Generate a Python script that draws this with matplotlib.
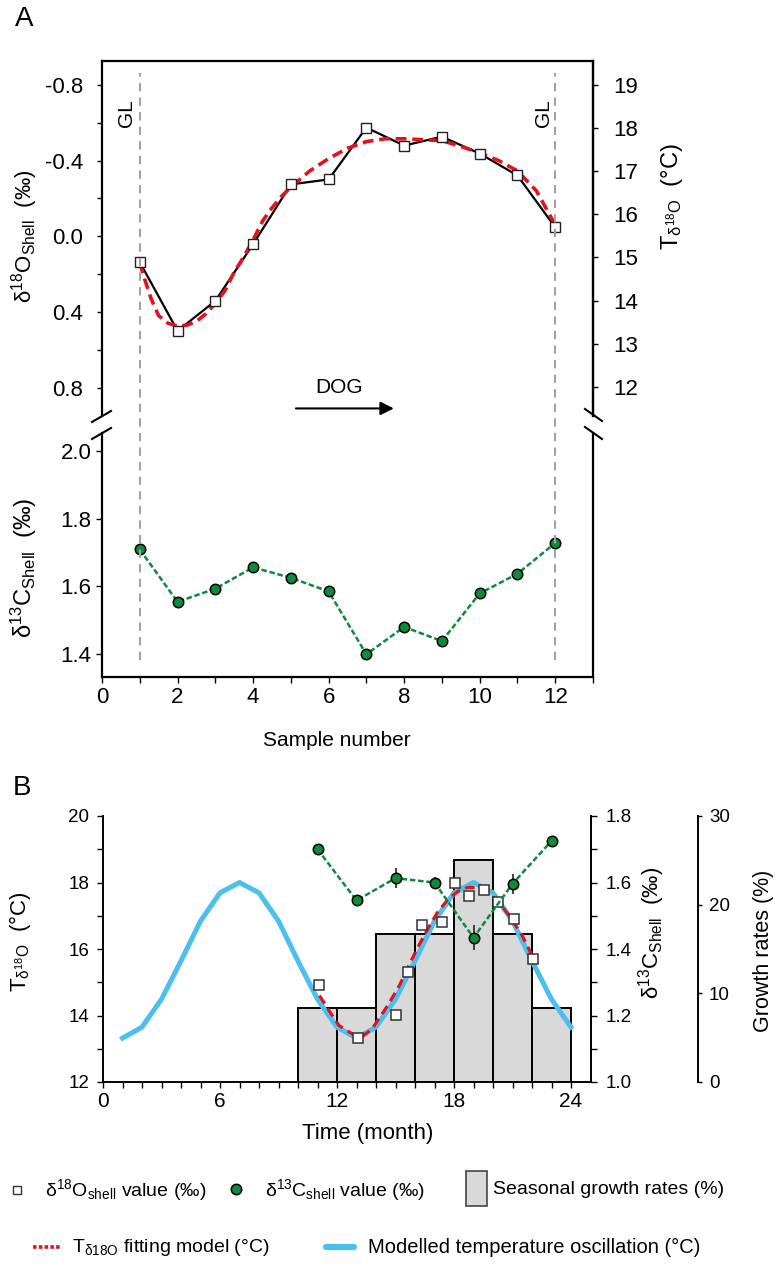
import matplotlib
matplotlib.use('Agg')
import matplotlib.pyplot as plt
from matplotlib.lines import Line2D
from matplotlib.patches import Rectangle
from matplotlib.ticker import FixedLocator

plt.rcParams['font.family'] = ['Liberation Sans', 'DejaVu Sans']
plt.rcParams['mathtext.fontset'] = 'custom'
plt.rcParams['mathtext.rm'] = 'Liberation Sans'
plt.rcParams['mathtext.it'] = 'Liberation Sans:italic'
plt.rcParams['mathtext.bf'] = 'Liberation Sans:bold'

# ---------------- data ----------------
samples = [1, 2, 3, 4, 5, 6, 7, 8, 9, 10, 11, 12]
d18O_shell = [0.137, 0.50, 0.342, 0.042, -0.274, -0.30, -0.574, -0.479, -0.526, -0.437, -0.321, -0.047]
d13C_shell = [1.709, 1.554, 1.593, 1.656, 1.625, 1.585, 1.399, 1.480, 1.438, 1.579, 1.637, 1.728]
fitA_x = [1.0, 1.15, 1.3, 1.5, 1.75, 2.0, 2.25, 2.5, 2.75, 3.0, 3.25, 3.5, 3.75, 4.0, 4.25, 4.5,
          4.75, 5.0, 5.5, 6.0, 6.5, 7.0, 7.5, 8.0, 8.5, 9.0, 9.5, 10.0, 10.5, 11.0, 11.5, 12.0]
fitA_d18O = [0.14, 0.24, 0.33, 0.42, 0.46, 0.475, 0.47, 0.45, 0.41, 0.355, 0.29, 0.19, 0.11, 0.02,
             -0.08, -0.15, -0.21, -0.26, -0.345, -0.41, -0.465, -0.50, -0.515, -0.515, -0.51,
             -0.505, -0.475, -0.44, -0.40, -0.345, -0.24, -0.06]

month_model = [1, 2, 3, 4, 5, 6, 7, 8, 9, 10, 11, 12, 13, 14, 15, 16, 17, 18, 19, 20, 21, 22, 23, 24]
temp_model = [13.32, 13.65, 14.49, 15.64, 16.84, 17.69, 18.0, 17.69, 16.84, 15.64, 14.49, 13.65,
              13.32, 13.65, 14.49, 15.64, 16.84, 17.69, 18.0, 17.69, 16.84, 15.64, 14.49, 13.65]
fitB_month = [11.1, 11.7, 12.1, 12.8, 13.3, 13.8, 14.6, 15.2, 15.6, 16.1, 16.65, 17.15, 17.7,
              18.2, 18.7, 19.2, 19.7, 20.25, 20.9, 21.5, 22.05]
fitB_temp = [14.6, 14.05, 13.7, 13.44, 13.37, 13.6, 14.3, 14.9, 15.4, 16.0, 16.6, 17.1, 17.5,
             17.73, 17.85, 17.85, 17.7, 17.45, 16.95, 16.4, 15.75]
sq_month = [11.09, 13.06, 15.05, 15.64, 16.38, 17.37, 18.03, 18.75, 19.55, 20.26, 21.06, 22.06]
sq_temp = [14.91, 13.31, 14.01, 15.31, 16.71, 16.81, 18.0, 17.6, 17.78, 17.4, 16.9, 15.7]
c_month = [11, 13, 15, 17, 19, 21, 23]
c_value = [1.70, 1.546, 1.613, 1.600, 1.434, 1.596, 1.725]
c_err = [0.0, 0.0, 0.03, 0.018, 0.038, 0.03, 0.0]
growth_start = [10, 12, 14, 16, 18, 20, 22]
growth_rate = [8.33, 8.33, 16.67, 16.67, 25.0, 16.67, 8.33]

# ---------------- styling ----------------
GREEN = '#0b8b3b'
RED = '#e3121e'
BLUE = '#4bbfee'
GREY_BAR = '#d9d9d9'

W, H = 775, 1264
fig = plt.figure(figsize=(W / 100, H / 100), dpi=100)


def rect(l, t, r, b):
    return [l / W, 1 - b / H, (r - l) / W, (b - t) / H]


def ftext(x, y, s, **kw):
    kw.setdefault('ha', 'center')
    kw.setdefault('va', 'center')
    return fig.text(x / W, 1 - y / H, s, **kw)


def fline(xs, ys, **kw):
    fig.add_artist(Line2D([x / W for x in xs], [1 - y / H for y in ys],
                          transform=fig.transFigure, **kw))


# ================= Panel A =================
ax1 = fig.add_axes(rect(102, 61, 593, 416))
ax1.set_xlim(0, 13)
ax1.set_ylim(0.95, -0.926)
for s in ['top', 'left', 'right']:
    ax1.spines[s].set_linewidth(1.6)
ax1.spines['bottom'].set_visible(False)
ax1.tick_params(axis='x', bottom=False, labelbottom=False)
ax1.set_yticks([-0.8, -0.4, 0.0, 0.4, 0.8])
ax1.set_yticklabels(['-0.8', '-0.4', '0.0', '0.4', '0.8'])
ax1.yaxis.set_minor_locator(FixedLocator([-0.6, -0.2, 0.2, 0.6]))
ax1.tick_params(axis='y', which='both', direction='out', length=3.6, width=1.0,
                labelsize=16, pad=10)

ax1.plot(samples, d18O_shell, color='black', lw=1.6, zorder=2)
ax1.plot(fitA_x, fitA_d18O, color=RED, lw=2.6, dashes=(3.0, 1.6), zorder=3)
ax1.plot(samples, d18O_shell, linestyle='none', marker='s', ms=6.5, mfc='white',
         mec='#222222', mew=1.0, zorder=4)

ax1t = ax1.twinx()
ax1t.set_ylim(11.32, 19.56)
for s in ['top', 'left', 'bottom']:
    ax1t.spines[s].set_visible(False)
ax1t.spines['right'].set_linewidth(1.6)
ax1t.set_yticks(list(range(12, 20)))
ax1t.tick_params(axis='y', direction='out', length=3.6, width=1.0, labelsize=16, pad=11)

ax1.text(samples[0] - 0.36, -0.653, 'GL', rotation=90, ha='center', va='center', fontsize=15)
ax1.text(samples[-1] - 0.3, -0.653, 'GL', rotation=90, ha='center', va='center', fontsize=15)
ax1.text(6.27, 0.80, 'DOG', ha='center', va='center', fontsize=15)
ax1.annotate('', xy=(7.8, 0.91), xytext=(5.06, 0.91),
             arrowprops=dict(arrowstyle='-|>', color='black', lw=1.5, mutation_scale=20))

ax2 = fig.add_axes(rect(102, 433, 593, 677))
ax2.set_xlim(0, 13)
ax2.set_ylim(1.332, 2.053)
ax2.spines['top'].set_visible(False)
for s in ['bottom', 'left', 'right']:
    ax2.spines[s].set_linewidth(1.6)
ax2.set_yticks([1.4, 1.6, 1.8, 2.0])
ax2.set_yticklabels(['1.4', '1.6', '1.8', '2.0'])
ax2.tick_params(axis='y', direction='out', length=4.5, width=1.0, labelsize=16, pad=3)
ax2.set_xticks(list(range(0, 14)))
ax2.set_xticklabels([str(i) if i % 2 == 0 else '' for i in range(14)])
ax2.tick_params(axis='x', direction='out', length=4, width=1.0, labelsize=16, pad=3)
ax2.plot(samples, d13C_shell, color=GREEN, lw=1.8, linestyle=(0, (2.2, 1.1)), marker='o',
         ms=7.5, mfc=GREEN, mec='black', mew=1.1, zorder=3)

# GL dashed lines spanning both parts
axov = fig.add_axes(rect(102, 61, 593, 677))
axov.set_xlim(0, 13)
axov.axis('off')
for gx in (samples[0], samples[-1]):
    axov.axvline(gx, ymin=0.0276, ymax=0.9805, color='#a3a3a3', lw=1.5, dashes=(4, 3))

# break marks
for (x0, y0, x1, y1) in [(92, 422, 111, 411), (92, 439, 111, 428),
                         (585, 409, 602, 421), (585, 427, 602, 439)]:
    fline([x0, x1], [y0, y1], color='black', lw=1.5)

ftext(24, 19, 'A', fontsize=20)
ftext(25, 236, 'δ$^{18}$O$_{\\mathrm{Shell}}$  (‰)', rotation=90, fontsize=16)
ftext(672, 197, 'T$_{\\mathrm{δ}^{18}\\mathrm{O}}$  (°C)', rotation=90, fontsize=17)
ftext(24, 568, 'δ$^{13}$C$_{\\mathrm{Shell}}$  (‰)', rotation=90, fontsize=17)
ftext(337, 741, 'Sample number', fontsize=15)

# ================= Panel B =================
axB = fig.add_axes(rect(103, 816, 590.5, 1082))
axC = axB.twinx()
axG = axB.twinx()
axG.set_zorder(1)
axB.set_zorder(2)
axC.set_zorder(3)
axB.patch.set_visible(False)
axC.patch.set_visible(False)
axG.patch.set_visible(False)

axB.set_xlim(0, 25)
axB.set_ylim(12, 20)
for s in ['top', 'right']:
    axB.spines[s].set_visible(False)
for s in ['left', 'bottom']:
    axB.spines[s].set_linewidth(1.4)
axB.set_xticks([0, 6, 12, 18, 24])
axB.xaxis.set_minor_locator(FixedLocator([m for m in range(1, 24) if m % 6 != 0]))
axB.tick_params(axis='x', which='both', direction='out', length=4.3, width=1.0,
                labelsize=15, pad=3)
axB.set_yticks([12, 14, 16, 18, 20])
axB.yaxis.set_minor_locator(FixedLocator([13, 15, 17, 19]))
axB.tick_params(axis='y', which='both', direction='out', length=4, width=1.0,
                labelsize=13.5, pad=6)

axC.set_ylim(1.0, 1.8)
for s in ['top', 'left', 'bottom']:
    axC.spines[s].set_visible(False)
axC.spines['right'].set_linewidth(1.4)
axC.set_yticks([1.0, 1.2, 1.4, 1.6, 1.8])
axC.set_yticklabels(['1.0', '1.2', '1.4', '1.6', '1.8'])
axC.yaxis.set_minor_locator(FixedLocator([1.1, 1.3, 1.5, 1.7]))
axC.tick_params(axis='y', which='both', direction='out', length=4, width=1.0,
                labelsize=13.5, pad=7)

axG.set_ylim(0, 30)
axG.spines['right'].set_position(('axes', 1.2205))
for s in ['top', 'left', 'bottom']:
    axG.spines[s].set_visible(False)
axG.spines['right'].set_linewidth(1.4)
axG.set_yticks([0, 10, 20, 30])
axG.tick_params(axis='y', direction='out', length=3, width=1.0, labelsize=13.5, pad=5)

axG.bar(growth_start, growth_rate, width=2, align='edge', color=GREY_BAR,
        edgecolor='black', linewidth=1.4)
axB.plot(month_model, temp_model, color=BLUE, lw=3.6, solid_joinstyle='round', zorder=2)
axB.plot(fitB_month, fitB_temp, color=RED, lw=2.3, dashes=(3.0, 1.8), zorder=3)
axB.plot(sq_month, sq_temp, linestyle='none', marker='s', ms=7, mfc='white',
         mec='#333333', mew=1.1, zorder=4)
axC.errorbar(c_month, c_value, yerr=c_err, fmt='none', ecolor='#222222',
             elinewidth=1.2, capsize=0, zorder=2)
axC.plot(c_month, c_value, color=GREEN, lw=1.8, linestyle=(0, (2.2, 1.1)), marker='o',
         ms=7.5, mfc=GREEN, mec='black', mew=1.1, zorder=3)

ftext(22, 788, 'B', fontsize=20)
ftext(20, 942, 'T$_{\\mathrm{δ}^{18}\\mathrm{O}}$  (°C)', rotation=90, fontsize=16)
ftext(652, 933, 'δ$^{13}$C$_{\\mathrm{Shell}}$  (‰)', rotation=90, fontsize=16)
ftext(763, 951, 'Growth rates (%)', rotation=90, fontsize=15.5)
ftext(368, 1133, 'Time (month)', fontsize=16)

# ================= Legend =================
fline([17], [1190], linestyle='none', marker='s', ms=6, mfc='white', mec='#333333', mew=1.0)
ftext(45, 1190, 'δ$^{18}$O$_{\\mathrm{shell}}$ value (‰)', ha='left', fontsize=14)
fline([236], [1189], linestyle='none', marker='o', ms=7.5, mfc=GREEN, mec='black', mew=1.1)
ftext(265, 1190, 'δ$^{13}$C$_{\\mathrm{shell}}$ value (‰)', ha='left', fontsize=14)
fig.add_artist(Rectangle((466 / W, 1 - 1206 / H), 21 / W, 35 / H, transform=fig.transFigure,
                         facecolor=GREY_BAR, edgecolor='#444444', lw=1.2))
ftext(493, 1190, 'Seasonal growth rates (%)', ha='left', fontsize=14)

fline([33, 60], [1247, 1247], color=RED, lw=2.6, linestyle=(0, (1, 0.6)))
ftext(72, 1247, 'T$_{\\mathrm{δ18O}}$ fitting model (°C)', ha='left', fontsize=14)
fline([326, 354], [1247, 1247], color=BLUE, lw=4.5, solid_capstyle='round')
ftext(368, 1247, 'Modelled temperature oscillation (°C)', ha='left', fontsize=14.5)

fig.savefig('out.png', dpi=100)
